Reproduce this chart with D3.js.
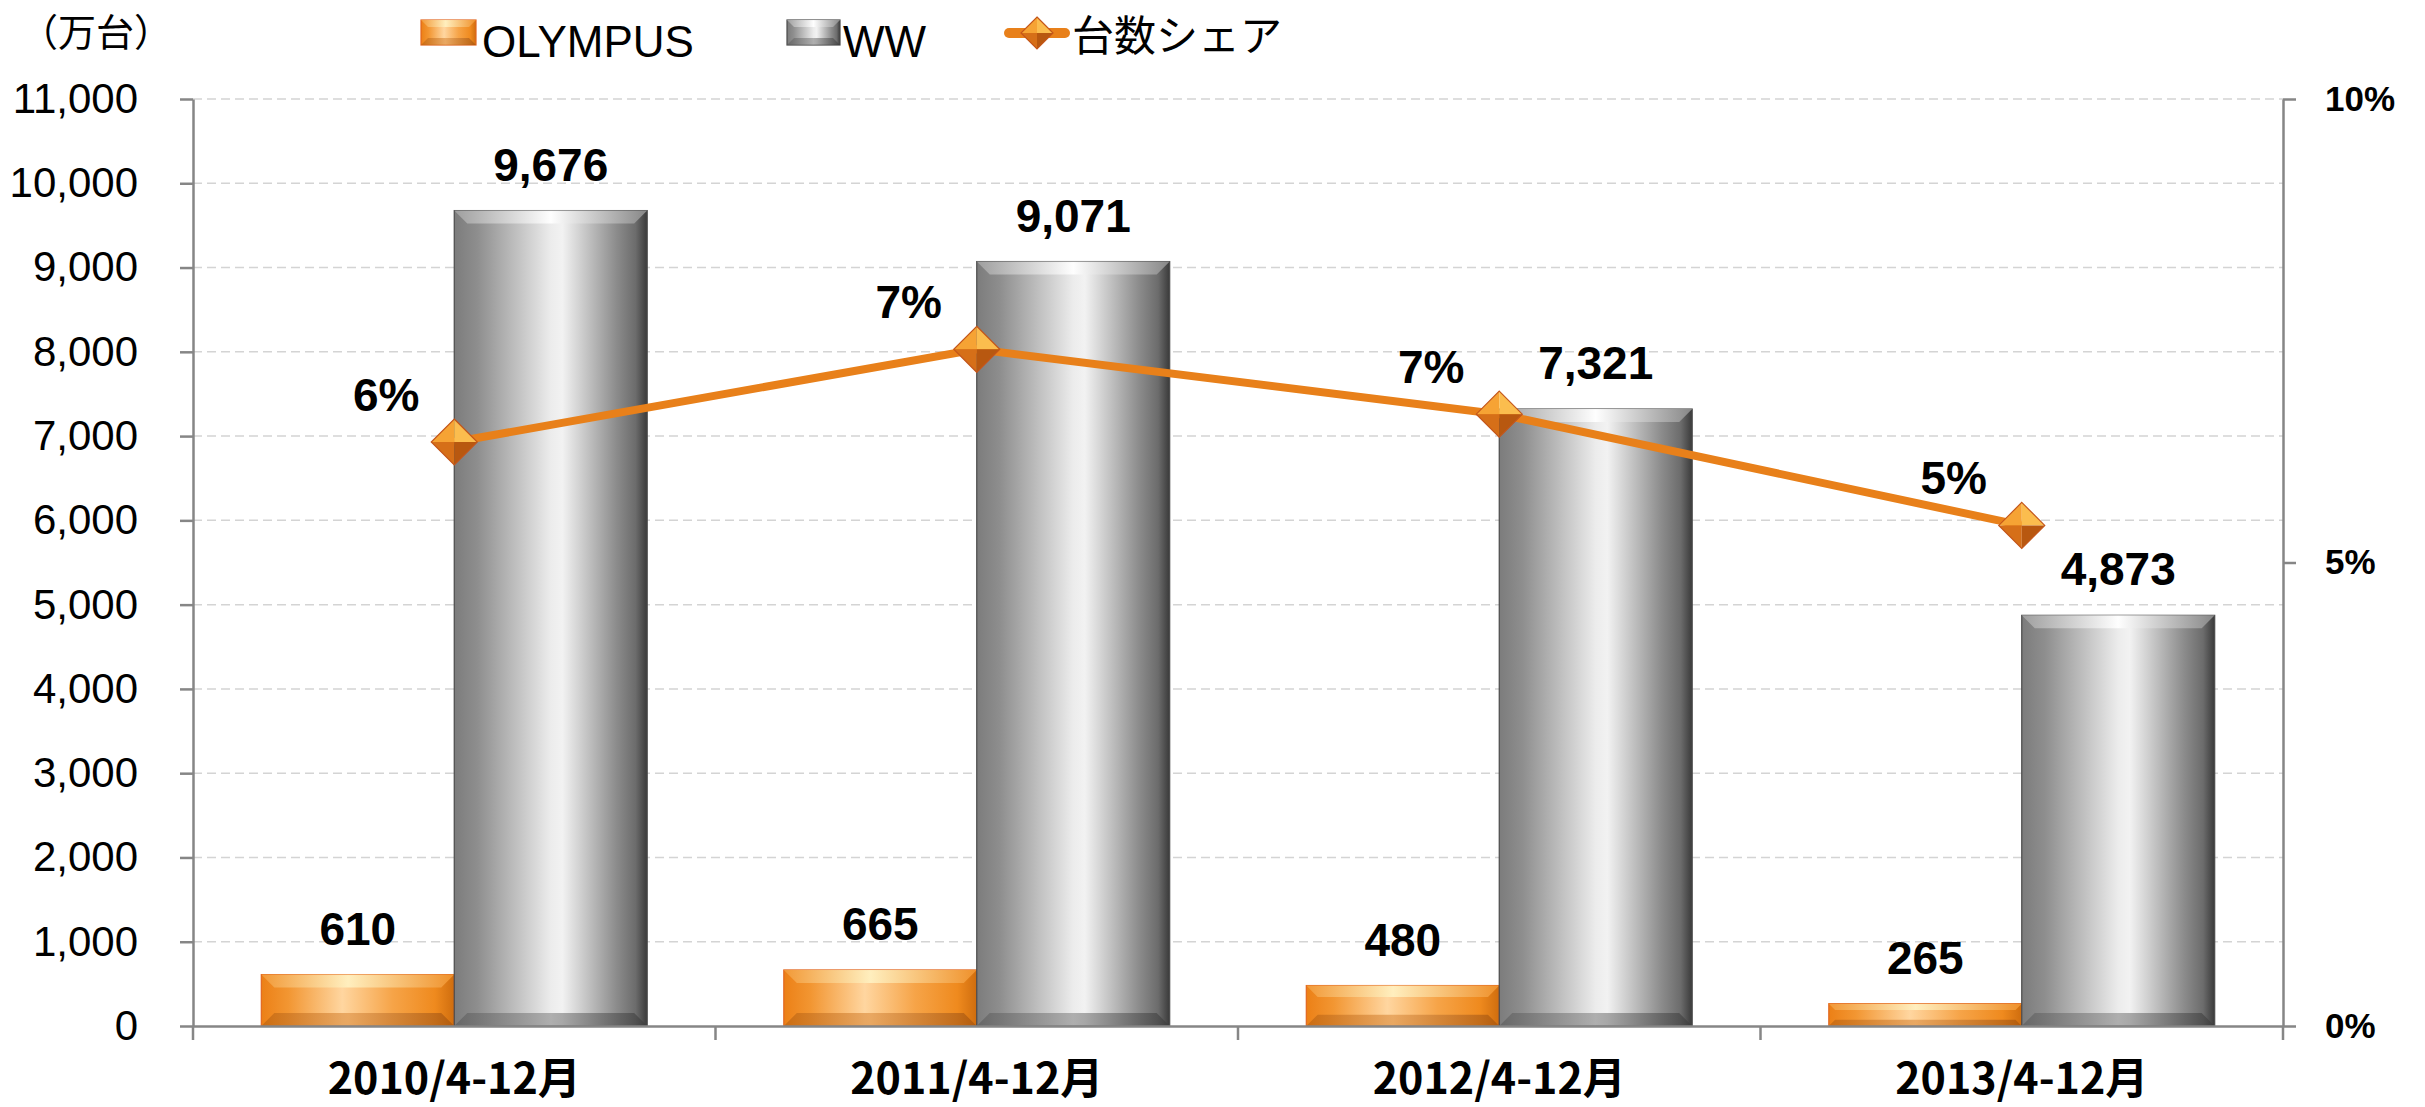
<!DOCTYPE html>
<html>
<head>
<meta charset="utf-8">
<script src="https://cdn.jsdelivr.net/npm/d3@7"></script>
<style>
  body { margin: 0; background: #fff; }
  svg { display: block; }
  .tick text { fill: #000; }
</style>
</head>
<body>
<div id="chart"></div>
<script>
// chart data
var categories = ["2010/4-12月", "2011/4-12月", "2012/4-12月", "2013/4-12月"];
var seriesNames = ["OLYMPUS", "WW"];
var olympusUnits = [610, 665, 480, 265];
var wwUnits = [9676, 9071, 7321, 4873];
var shareValues = [6.3, 7.3, 6.6, 5.4];
var shareLabels = ["6%", "7%", "7%", "5%"];
var leftTicks = [0, 1000, 2000, 3000, 4000, 5000, 6000, 7000, 8000, 9000, 10000, 11000];
var rightTicks = [0, 5, 10];
var unitLabel = "（万台）";
var shareName = "台数シェア";

var svgWidth = 2425;
var svgHeight = 1107;
var margin = { top: 99, right: 142, bottom: 81, left: 193 };
var width = svgWidth - margin.left - margin.right;
var height = svgHeight - margin.top - margin.bottom;

var latin = "'Liberation Sans', Arial, sans-serif";
var cjk = "'Noto Sans CJK JP', 'Noto Sans', sans-serif";

var svg = d3.select("#chart")
  .append("svg")
  .attr("width", svgWidth)
  .attr("height", svgHeight);

svg.append("rect").attr("width", svgWidth).attr("height", svgHeight).attr("fill", "#fff");

// gradients
var defs = svg.append("defs");
function hGrad(id, stops) {
  var g = defs.append("linearGradient").attr("id", id)
    .attr("x1", "0%").attr("x2", "100%").attr("y1", "0%").attr("y2", "0%");
  stops.forEach(function(s) {
    g.append("stop").attr("offset", s[0]).attr("stop-color", s[1]);
  });
}
hGrad("orangeBody", [[0, "#ec8016"], [0.14, "#f29632"], [0.42, "#ffd6a0"], [0.68, "#f6a448"], [0.9, "#ef8a1e"], [1, "#cf6d0e"]]);
hGrad("orangeTop", [[0, "#f29a38"], [0.45, "#fff0c0"], [1, "#f0922c"]]);
hGrad("orangeBottom", [[0, "#c0650f"], [0.45, "#e29a50"], [1, "#a8550c"]]);
hGrad("grayBody", [[0, "#7c7c7c"], [0.12, "#8e8e8e"], [0.5, "#ececec"], [0.56, "#f2f2f2"], [0.84, "#8c8c8c"], [0.94, "#6c6c6c"], [1, "#3a3a3a"]]);
hGrad("grayTop", [[0, "#a0a0a0"], [0.5, "#ffffff"], [1, "#8a8a8a"]]);
hGrad("grayBottom", [[0, "#606060"], [0.5, "#9a9a9a"], [1, "#3c3c3c"]]);

var chartGroup = svg.append("g")
  .attr("transform", `translate(${margin.left}, ${margin.top})`);

// scales
var xScale = d3.scaleBand().domain(categories).range([0, width]);
var xInner = d3.scaleBand().domain(seriesNames).range([0, xScale.bandwidth()]).paddingOuter(0.354);
var yScale = d3.scaleLinear().domain([0, 11000]).range([height, 0]);
var yShare = d3.scaleLinear().domain([0, 10]).range([height, 0]);

// grid
chartGroup.append("g").selectAll("line")
  .data(leftTicks.filter(d => d > 0))
  .enter().append("line")
  .attr("x1", 0).attr("x2", width)
  .attr("y1", d => yScale(d)).attr("y2", d => yScale(d))
  .attr("stroke", "#d4d4d4").attr("stroke-width", 1.5)
  .attr("stroke-dasharray", "9,5");

// bevelled bar
function bevelBar(g, x, y, w, h, kind) {
  var b = Math.min(13, h * 0.28);
  var body = kind === "orange" ? "orangeBody" : "grayBody";
  g.append("rect").attr("x", x).attr("y", y).attr("width", w).attr("height", h)
    .attr("fill", `url(#${body})`)
    .attr("stroke", kind === "orange" ? "#e2661e" : "#4a4a4a")
    .attr("stroke-width", 1.2);
  g.append("polygon")
    .attr("points", [[x, y], [x + w, y], [x + w - b, y + b], [x + b, y + b]].join(" "))
    .attr("fill", `url(#${kind}Top)`).attr("opacity", 0.95);
  g.append("polygon")
    .attr("points", [[x, y + h], [x + w, y + h], [x + w - b, y + h - b], [x + b, y + h - b]].join(" "))
    .attr("fill", `url(#${kind}Bottom)`).attr("opacity", 0.75);
}

// bars
var barGroup = chartGroup.append("g");
categories.forEach(function(c, i) {
  var x0 = xScale(c);
  var vals = [olympusUnits[i], wwUnits[i]];
  seriesNames.forEach(function(s, j) {
    var bx = x0 + xInner(s);
    var by = yScale(vals[j]);
    bevelBar(barGroup, bx, by, xInner.bandwidth(), height - by, j === 0 ? "orange" : "gray");
    barGroup.append("text")
      .attr("x", bx + xInner.bandwidth() / 2)
      .attr("y", by - 30)
      .attr("text-anchor", "middle")
      .attr("font-family", latin).attr("font-weight", "bold").attr("font-size", 46)
      .text(d3.format(",")(vals[j]));
  });
});

// axes
var leftAxis = d3.axisLeft(yScale).tickValues(leftTicks).tickSize(13).tickSizeOuter(0)
  .tickPadding(42).tickFormat(d3.format(","));
var lg = chartGroup.append("g").call(leftAxis);
lg.selectAll("text").attr("font-family", latin).attr("font-size", 42);

var rightAxis = d3.axisRight(yShare).tickValues(rightTicks).tickSize(13).tickSizeOuter(0)
  .tickPadding(29).tickFormat(d => d + "%");
var rg = chartGroup.append("g").attr("transform", `translate(${width}, 0)`).call(rightAxis);
rg.selectAll("text").attr("font-family", latin).attr("font-weight", "bold").attr("font-size", 35);

[lg, rg].forEach(function(a) {
  a.select(".domain").attr("stroke", "#868686").attr("stroke-width", 2.5);
  a.selectAll(".tick line").attr("stroke", "#868686").attr("stroke-width", 2.5);
});

// x axis
var bottomAxis = d3.axisBottom(xScale).tickSize(0).tickPadding(68);
var bg = chartGroup.append("g").attr("transform", `translate(0, ${height})`).call(bottomAxis);
bg.select(".domain").attr("stroke", "#868686").attr("stroke-width", 2.5);
bg.selectAll("text").attr("font-family", cjk).attr("font-weight", "bold").attr("font-size", 43).attr("dy", 0);
bg.selectAll(".sep")
  .data(categories.map(c => xScale(c)).concat([width]))
  .enter().append("line").attr("class", "sep")
  .attr("x1", d => d).attr("x2", d => d).attr("y1", 0).attr("y2", 14)
  .attr("stroke", "#868686").attr("stroke-width", 2.5);

// diamond marker
function diamond(g, cx, cy, r) {
  var t = [cx, cy - r], rt = [cx + r, cy], bt = [cx, cy + r], lf = [cx - r, cy], c = [cx, cy];
  var faces = [[[lf, t, c], "#f6a334"], [[t, rt, c], "#fbbd4e"], [[lf, bt, c], "#d66f18"], [[bt, rt, c], "#b85810"]];
  faces.forEach(function(f) {
    g.append("polygon").attr("points", f[0].join(" ")).attr("fill", f[1]);
  });
  g.append("polygon").attr("points", [t, rt, bt, lf].join(" "))
    .attr("fill", "none").attr("stroke", "#c4561a").attr("stroke-width", 1.2);
}

// share line
var line = d3.line()
  .x((d, i) => xScale(categories[i]) + xScale.bandwidth() / 2)
  .y(d => yShare(d));
chartGroup.append("path")
  .datum(shareValues)
  .attr("d", line)
  .attr("fill", "none")
  .attr("stroke", "#e8801a")
  .attr("stroke-width", 8);

var markerGroup = chartGroup.append("g");
shareValues.forEach(function(v, i) {
  var cx = xScale(categories[i]) + xScale.bandwidth() / 2;
  var cy = yShare(v);
  diamond(markerGroup, cx, cy, 23);
  markerGroup.append("text")
    .attr("x", cx - 68).attr("y", cy - 48)
    .attr("dy", "0.36em")
    .attr("text-anchor", "middle")
    .attr("font-family", latin).attr("font-weight", "bold").attr("font-size", 46)
    .text(shareLabels[i]);
});

// unit label
svg.append("text")
  .attr("x", 20).attr("y", 46)
  .attr("font-family", cjk).attr("font-size", 38)
  .text(unitLabel);

// legend
var legend = svg.append("g");
bevelBar(legend, 421, 20, 55, 25, "orange");
legend.append("text").attr("x", 482).attr("y", 57)
  .attr("font-family", latin).attr("font-size", 44).text(seriesNames[0]);
bevelBar(legend, 787, 20, 53, 25, "gray");
legend.append("text").attr("x", 843).attr("y", 57)
  .attr("font-family", latin).attr("font-size", 44).text(seriesNames[1]);
legend.append("line")
  .attr("x1", 1009).attr("x2", 1065).attr("y1", 33).attr("y2", 33)
  .attr("stroke", "#e8801a").attr("stroke-width", 10).attr("stroke-linecap", "round");
diamond(legend, 1037, 33, 16);
legend.append("text").attr("x", 1072).attr("y", 51)
  .attr("font-family", cjk).attr("font-size", 42).text(shareName);
</script>
</body>
</html>
